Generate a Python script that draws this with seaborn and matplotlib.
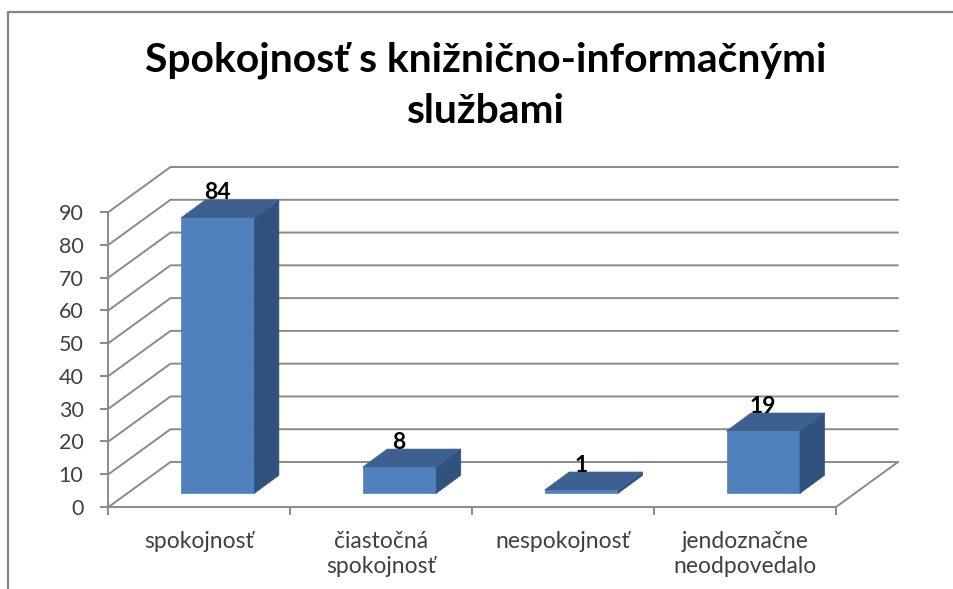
import matplotlib
matplotlib.use('Agg')
import matplotlib.pyplot as plt
import seaborn as sns
from matplotlib.lines import Line2D
from matplotlib.patches import Polygon

categories = ['spokojnosť', 'čiastočná\nspokojnosť', 'nespokojnosť', 'jendoznačne\nneodpovedalo']
values = [84, 8, 1, 19]
y_ticks = [0, 10, 20, 30, 40, 50, 60, 70, 80, 90]
title = 'Spokojnosť s knižnično-informačnými\nslužbami'

W, H = 954, 589
sns.set_style('white')
plt.rcParams['font.family'] = ['Lato', 'DejaVu Sans']

fig = plt.figure(figsize=(W / 100, H / 100), dpi=100)
# front plane of the fake 3d box, in pixels
left, right, bottom, top = 108.5, 836, 507, 212
ax = fig.add_axes([left / W, 1 - bottom / H, (right - left) / W, (bottom - top) / H])

px_x = 4 / (right - left)
px_y = 90 / (bottom - top)

# wall is pushed back, bars sit halfway in it
wall_dx, wall_dy = 62 * px_x, 45 * px_y
bar_dx, bar_dy = 18.2 * px_x, 13.7 * px_y
depth_x, depth_y = 24.5 * px_x, 18 * px_y

grid_color = '#8a8a8a'
line_w = 1.4
for v in y_ticks:
    ax.plot([-0.5, -0.5 + wall_dx, 3.5 + wall_dx], [v, v + wall_dy, v + wall_dy],
            color=grid_color, lw=line_w, clip_on=False, zorder=1, solid_joinstyle='miter')
ax.plot([3.5, 3.5 + wall_dx], [0, wall_dy], color=grid_color, lw=line_w, clip_on=False, zorder=1)

sns.barplot(x=categories, y=values, color='#4f81bd', saturation=1, width=0.404, ax=ax, zorder=3,
            edgecolor='#4f81bd', linewidth=0.5)

for p, v in zip(ax.patches, values):
    p.set_x(p.get_x() + bar_dx)
    p.set_y(bar_dy)
    p.set_clip_on(False)
    x0, x1 = p.get_x(), p.get_x() + p.get_width()
    y0, y1 = bar_dy, bar_dy + v
    ax.add_patch(Polygon([(x1, y0), (x1 + depth_x, y0 + depth_y), (x1 + depth_x, y1 + depth_y), (x1, y1)],
                         facecolor='#31527c', edgecolor='#31527c', lw=0.5, clip_on=False, zorder=3))
    ax.add_patch(Polygon([(x0, y1), (x0 + depth_x, y1 + depth_y), (x1 + depth_x, y1 + depth_y), (x1, y1)],
                         facecolor='#3c6191', edgecolor='#3c6191', lw=0.5, clip_on=False, zorder=3))
    ax.text((x0 + x1) / 2 - 0.5 * px_x, y1 + 25 * px_y, str(v), ha='center', va='center',
            fontsize=16.5, fontweight='bold', color='black', zorder=5)

ax.set_xlim(-0.5, 3.5)
ax.set_ylim(0, 90)
ax.set_yticks(y_ticks)
ax.set_xticks([-0.5, 0.5, 1.5, 2.5, 3.5], minor=True)
ax.set_xticks(range(4))
ax.set_xticklabels(categories)
ax.patch.set_alpha(0)
ax.tick_params(axis='y', which='major', left=True, length=6, width=line_w, color=grid_color,
               labelsize=15.5, labelcolor='#404040', pad=12)
ax.tick_params(axis='x', which='minor', bottom=True, length=6, width=line_w, color=grid_color)
ax.tick_params(axis='x', which='major', bottom=False, labelsize=16.5, labelcolor='#404040', pad=14)
for lab in ax.get_xticklabels():
    lab.set_linespacing(1.24)

sns.despine(ax=ax)
for s in ['left', 'bottom']:
    ax.spines[s].set_color(grid_color)
    ax.spines[s].set_linewidth(line_w)

# outer chart frame, the screenshot cuts it off on the other sides
fig.add_artist(Line2D([8 / W, 8 / W, 1], [0, 1 - 12 / H, 1 - 12 / H], color='#858585', lw=1.6))

fig.text(486 / W, 1 - 85.5 / H, title, ha='center', va='center', fontsize=29.4, fontweight='bold',
         color='black', linespacing=1.47)

fig.savefig('out.png', dpi=100, facecolor='white')
